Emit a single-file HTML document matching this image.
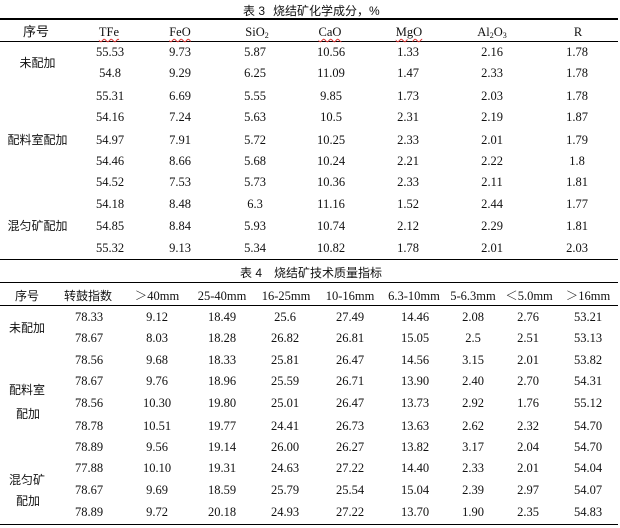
<!DOCTYPE html>
<html><head><meta charset="utf-8"><style>
html,body{margin:0;padding:0;background:#fff;}
body{width:620px;height:528px;position:relative;overflow:hidden;}
.t{position:absolute;width:90px;margin-left:-45px;height:16px;line-height:16px;margin-top:-8px;text-align:center;white-space:nowrap;color:#111;font-family:"Liberation Serif","Noto Serif CJK SC",serif;font-size:12.5px;}
.c{font-family:"Liberation Sans","Noto Sans CJK SC",sans-serif;font-size:12px;color:#111;}
.h{font-size:13px;}
.ln{position:absolute;left:0;width:618px;height:1.5px;background:#000;}
.ttl{position:absolute;height:16px;line-height:16px;margin-top:-8px;white-space:nowrap;font-family:"Liberation Sans","Noto Sans CJK SC",sans-serif;font-size:12px;color:#111;}
.w{text-decoration:underline wavy #d33;text-decoration-thickness:1px;text-underline-offset:2px;}
sub{font-size:8px;vertical-align:-2px;line-height:0;}
</style></head><body>
<!-- Table 3 -->
<div class="ttl" style="left:243px;top:11px">表 3</div>
<div class="ttl" style="left:273px;top:11px">烧结矿化学成分，%</div>
<div class="ln" style="top:18px"></div>
<div class="ln" style="top:40.5px"></div>
<div class="ln" style="top:258.5px"></div>
<div class="t c h" style="left:36px;top:32px">序号</div>
<div class="t" style="left:109px;top:32px"><span class="w">TFe</span></div>
<div class="t" style="left:180px;top:32px"><span class="w">FeO</span></div>
<div class="t" style="left:257px;top:32px">SiO<sub>2</sub></div>
<div class="t" style="left:330px;top:32px"><span class="w">CaO</span></div>
<div class="t" style="left:409px;top:32px"><span class="w">MgO</span></div>
<div class="t" style="left:492px;top:32px">Al<sub>2</sub>O<sub>3</sub></div>
<div class="t" style="left:578px;top:32px">R</div>
<div class="t c" style="left:37.5px;top:63px">未配加</div>
<div class="t c" style="left:37.5px;top:140px">配料室配加</div>
<div class="t c" style="left:37.5px;top:226px">混匀矿配加</div>

<div class="t" style="left:110px;top:52px">55.53</div><div class="t" style="left:180px;top:52px">9.73</div><div class="t" style="left:255px;top:52px">5.87</div><div class="t" style="left:331px;top:52px">10.56</div><div class="t" style="left:408px;top:52px">1.33</div><div class="t" style="left:492px;top:52px">2.16</div><div class="t" style="left:577px;top:52px">1.78</div>
<div class="t" style="left:110px;top:73px">54.8</div><div class="t" style="left:180px;top:73px">9.29</div><div class="t" style="left:255px;top:73px">6.25</div><div class="t" style="left:331px;top:73px">11.09</div><div class="t" style="left:408px;top:73px">1.47</div><div class="t" style="left:492px;top:73px">2.33</div><div class="t" style="left:577px;top:73px">1.78</div>
<div class="t" style="left:110px;top:96px">55.31</div><div class="t" style="left:180px;top:96px">6.69</div><div class="t" style="left:255px;top:96px">5.55</div><div class="t" style="left:331px;top:96px">9.85</div><div class="t" style="left:408px;top:96px">1.73</div><div class="t" style="left:492px;top:96px">2.03</div><div class="t" style="left:577px;top:96px">1.78</div>
<div class="t" style="left:110px;top:117px">54.16</div><div class="t" style="left:180px;top:117px">7.24</div><div class="t" style="left:255px;top:117px">5.63</div><div class="t" style="left:331px;top:117px">10.5</div><div class="t" style="left:408px;top:117px">2.31</div><div class="t" style="left:492px;top:117px">2.19</div><div class="t" style="left:577px;top:117px">1.87</div>
<div class="t" style="left:110px;top:140px">54.97</div><div class="t" style="left:180px;top:140px">7.91</div><div class="t" style="left:255px;top:140px">5.72</div><div class="t" style="left:331px;top:140px">10.25</div><div class="t" style="left:408px;top:140px">2.33</div><div class="t" style="left:492px;top:140px">2.01</div><div class="t" style="left:577px;top:140px">1.79</div>
<div class="t" style="left:110px;top:161px">54.46</div><div class="t" style="left:180px;top:161px">8.66</div><div class="t" style="left:255px;top:161px">5.68</div><div class="t" style="left:331px;top:161px">10.24</div><div class="t" style="left:408px;top:161px">2.21</div><div class="t" style="left:492px;top:161px">2.22</div><div class="t" style="left:577px;top:161px">1.8</div>
<div class="t" style="left:110px;top:182px">54.52</div><div class="t" style="left:180px;top:182px">7.53</div><div class="t" style="left:255px;top:182px">5.73</div><div class="t" style="left:331px;top:182px">10.36</div><div class="t" style="left:408px;top:182px">2.33</div><div class="t" style="left:492px;top:182px">2.11</div><div class="t" style="left:577px;top:182px">1.81</div>
<div class="t" style="left:110px;top:204px">54.18</div><div class="t" style="left:180px;top:204px">8.48</div><div class="t" style="left:255px;top:204px">6.3</div><div class="t" style="left:331px;top:204px">11.16</div><div class="t" style="left:408px;top:204px">1.52</div><div class="t" style="left:492px;top:204px">2.44</div><div class="t" style="left:577px;top:204px">1.77</div>
<div class="t" style="left:110px;top:226px">54.85</div><div class="t" style="left:180px;top:226px">8.84</div><div class="t" style="left:255px;top:226px">5.93</div><div class="t" style="left:331px;top:226px">10.74</div><div class="t" style="left:408px;top:226px">2.12</div><div class="t" style="left:492px;top:226px">2.29</div><div class="t" style="left:577px;top:226px">1.81</div>
<div class="t" style="left:110px;top:248px">55.32</div><div class="t" style="left:180px;top:248px">9.13</div><div class="t" style="left:255px;top:248px">5.34</div><div class="t" style="left:331px;top:248px">10.82</div><div class="t" style="left:408px;top:248px">1.78</div><div class="t" style="left:492px;top:248px">2.01</div><div class="t" style="left:577px;top:248px">2.03</div>

<!-- Table 4 -->
<div class="ttl" style="left:240px;top:273px">表 4</div>
<div class="ttl" style="left:274px;top:273px">烧结矿技术质量指标</div>
<div class="ln" style="top:281.5px"></div>
<div class="ln" style="top:304.5px"></div>
<div class="ln" style="top:523.5px"></div>
<div class="t c" style="left:27px;top:296px">序号</div>
<div class="t c" style="left:88px;top:296px">转鼓指数</div>
<div class="t" style="left:157px;top:296px">＞40mm</div>
<div class="t" style="left:222px;top:296px">25-40mm</div>
<div class="t" style="left:286px;top:296px">16-25mm</div>
<div class="t" style="left:350px;top:296px">10-16mm</div>
<div class="t" style="left:414px;top:296px">6.3-10mm</div>
<div class="t" style="left:473px;top:296px">5-6.3mm</div>
<div class="t" style="left:529px;top:296px">＜5.0mm</div>
<div class="t" style="left:588px;top:296px">＞16mm</div>
<div class="t c" style="left:27px;top:328px">未配加</div>
<div class="t c" style="left:27px;top:390px">配料室</div>
<div class="t c" style="left:28px;top:414px">配加</div>
<div class="t c" style="left:27px;top:480px">混匀矿</div>
<div class="t c" style="left:28px;top:501px">配加</div>

<div class="t" style="left:89px;top:317px">78.33</div><div class="t" style="left:157px;top:317px">9.12</div><div class="t" style="left:222px;top:317px">18.49</div><div class="t" style="left:285px;top:317px">25.6</div><div class="t" style="left:350px;top:317px">27.49</div><div class="t" style="left:415px;top:317px">14.46</div><div class="t" style="left:473px;top:317px">2.08</div><div class="t" style="left:528px;top:317px">2.76</div><div class="t" style="left:588px;top:317px">53.21</div>
<div class="t" style="left:89px;top:338px">78.67</div><div class="t" style="left:157px;top:338px">8.03</div><div class="t" style="left:222px;top:338px">18.28</div><div class="t" style="left:285px;top:338px">26.82</div><div class="t" style="left:350px;top:338px">26.81</div><div class="t" style="left:415px;top:338px">15.05</div><div class="t" style="left:473px;top:338px">2.5</div><div class="t" style="left:528px;top:338px">2.51</div><div class="t" style="left:588px;top:338px">53.13</div>
<div class="t" style="left:89px;top:360px">78.56</div><div class="t" style="left:157px;top:360px">9.68</div><div class="t" style="left:222px;top:360px">18.33</div><div class="t" style="left:285px;top:360px">25.81</div><div class="t" style="left:350px;top:360px">26.47</div><div class="t" style="left:415px;top:360px">14.56</div><div class="t" style="left:473px;top:360px">3.15</div><div class="t" style="left:528px;top:360px">2.01</div><div class="t" style="left:588px;top:360px">53.82</div>
<div class="t" style="left:89px;top:381px">78.67</div><div class="t" style="left:157px;top:381px">9.76</div><div class="t" style="left:222px;top:381px">18.96</div><div class="t" style="left:285px;top:381px">25.59</div><div class="t" style="left:350px;top:381px">26.71</div><div class="t" style="left:415px;top:381px">13.90</div><div class="t" style="left:473px;top:381px">2.40</div><div class="t" style="left:528px;top:381px">2.70</div><div class="t" style="left:588px;top:381px">54.31</div>
<div class="t" style="left:89px;top:403px">78.56</div><div class="t" style="left:157px;top:403px">10.30</div><div class="t" style="left:222px;top:403px">19.80</div><div class="t" style="left:285px;top:403px">25.01</div><div class="t" style="left:350px;top:403px">26.47</div><div class="t" style="left:415px;top:403px">13.73</div><div class="t" style="left:473px;top:403px">2.92</div><div class="t" style="left:528px;top:403px">1.76</div><div class="t" style="left:588px;top:403px">55.12</div>
<div class="t" style="left:89px;top:426px">78.78</div><div class="t" style="left:157px;top:426px">10.51</div><div class="t" style="left:222px;top:426px">19.77</div><div class="t" style="left:285px;top:426px">24.41</div><div class="t" style="left:350px;top:426px">26.73</div><div class="t" style="left:415px;top:426px">13.63</div><div class="t" style="left:473px;top:426px">2.62</div><div class="t" style="left:528px;top:426px">2.32</div><div class="t" style="left:588px;top:426px">54.70</div>
<div class="t" style="left:89px;top:447px">78.89</div><div class="t" style="left:157px;top:447px">9.56</div><div class="t" style="left:222px;top:447px">19.14</div><div class="t" style="left:285px;top:447px">26.00</div><div class="t" style="left:350px;top:447px">26.27</div><div class="t" style="left:415px;top:447px">13.82</div><div class="t" style="left:473px;top:447px">3.17</div><div class="t" style="left:528px;top:447px">2.04</div><div class="t" style="left:588px;top:447px">54.70</div>
<div class="t" style="left:89px;top:468px">77.88</div><div class="t" style="left:157px;top:468px">10.10</div><div class="t" style="left:222px;top:468px">19.31</div><div class="t" style="left:285px;top:468px">24.63</div><div class="t" style="left:350px;top:468px">27.22</div><div class="t" style="left:415px;top:468px">14.40</div><div class="t" style="left:473px;top:468px">2.33</div><div class="t" style="left:528px;top:468px">2.01</div><div class="t" style="left:588px;top:468px">54.04</div>
<div class="t" style="left:89px;top:490px">78.67</div><div class="t" style="left:157px;top:490px">9.69</div><div class="t" style="left:222px;top:490px">18.59</div><div class="t" style="left:285px;top:490px">25.79</div><div class="t" style="left:350px;top:490px">25.54</div><div class="t" style="left:415px;top:490px">15.04</div><div class="t" style="left:473px;top:490px">2.39</div><div class="t" style="left:528px;top:490px">2.97</div><div class="t" style="left:588px;top:490px">54.07</div>
<div class="t" style="left:89px;top:512px">78.89</div><div class="t" style="left:157px;top:512px">9.72</div><div class="t" style="left:222px;top:512px">20.18</div><div class="t" style="left:285px;top:512px">24.93</div><div class="t" style="left:350px;top:512px">27.22</div><div class="t" style="left:415px;top:512px">13.70</div><div class="t" style="left:473px;top:512px">1.90</div><div class="t" style="left:528px;top:512px">2.35</div><div class="t" style="left:588px;top:512px">54.83</div>
</body></html>
